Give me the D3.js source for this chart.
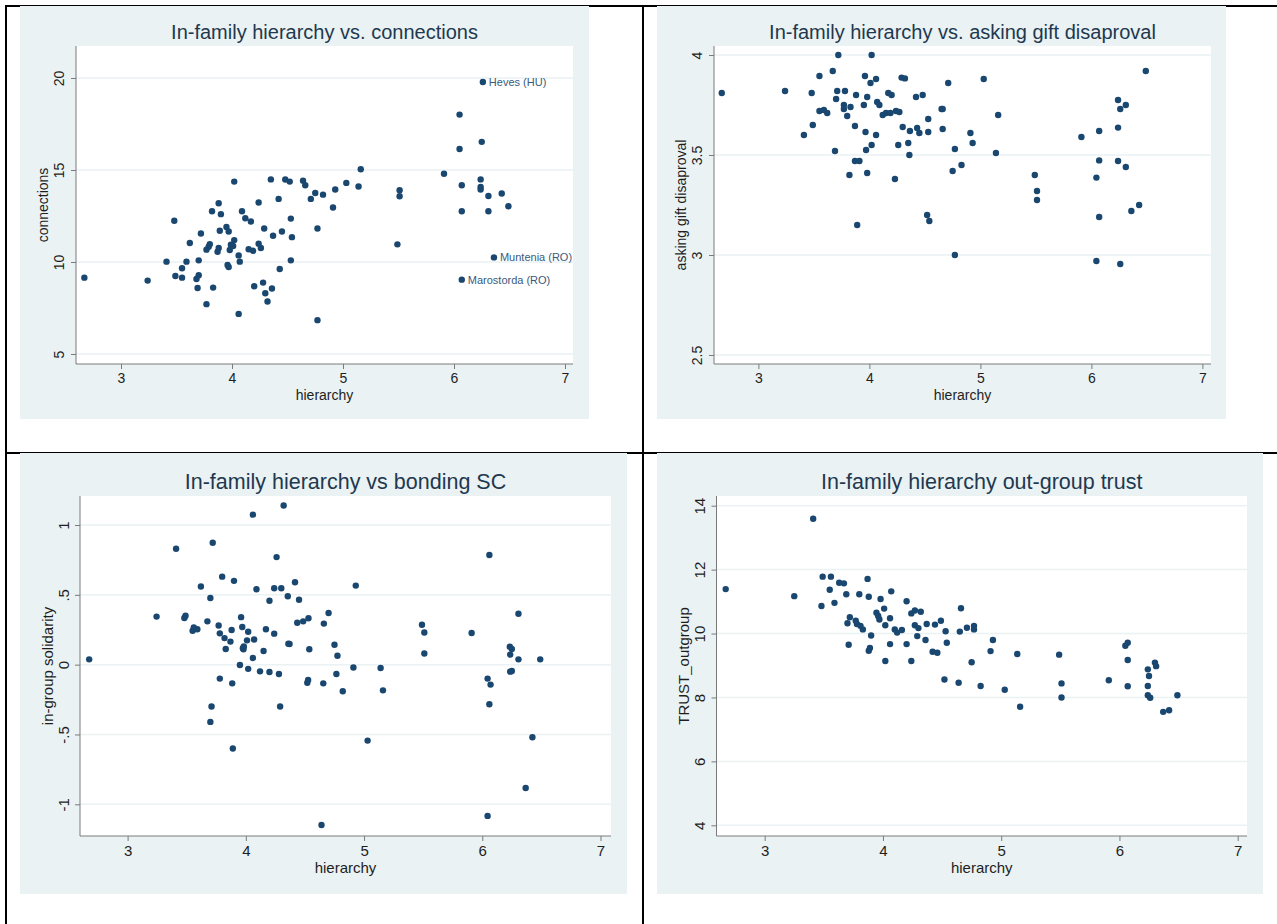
<!DOCTYPE html>
<html lang="en">
<head>
<meta charset="UTF-8">
<title>In-family hierarchy scatter plots</title>
<script src="https://d3js.org/d3.v7.min.js"></script>
<style>
  body { margin: 0; background: #fff; }
  svg { display: block; font-family: "Liberation Sans", Arial, sans-serif; }
  .title { fill: #22384f; }
  .tick-label, .axis-title { fill: #1e1e1e; }
  .pt-label { font-size: 11px; fill: #3a5a7c; }
</style>
</head>
<body>
<svg width="1277" height="924"></svg>
<script>
// hierarchy vs connections
const connPts = [
  [2.67, 9.15], [3.24, 8.99], [3.41, 10.02], [3.48, 12.24], [3.49, 9.24], [3.55, 9.15], [3.55, 9.66],
  [3.59, 10.02], [3.62, 11.03], [3.68, 9.08], [3.69, 8.59], [3.70, 10.09], [3.70, 9.28], [3.72, 11.55],
  [3.77, 7.71], [3.77, 10.67], [3.79, 10.83], [3.80, 10.97], [3.82, 12.76], [3.83, 8.61], [3.87, 10.56],
  [3.88, 10.76], [3.88, 13.19], [3.89, 11.70], [3.90, 12.60], [3.95, 11.90], [3.96, 9.84], [3.97, 9.73],
  [3.97, 11.66], [3.98, 10.65], [3.99, 10.94], [4.01, 10.87], [4.02, 11.19], [4.02, 14.37], [4.06, 10.36],
  [4.06, 7.18], [4.07, 10.02], [4.09, 12.76], [4.12, 12.38], [4.15, 10.69], [4.17, 12.20], [4.19, 10.61],
  [4.20, 8.68], [4.24, 13.23], [4.24, 10.99], [4.26, 10.76], [4.28, 8.88], [4.29, 11.82], [4.30, 8.30],
  [4.32, 7.85], [4.35, 14.49], [4.36, 8.56], [4.37, 11.43], [4.42, 13.43], [4.43, 9.62], [4.45, 11.66],
  [4.48, 14.48], [4.52, 14.37], [4.53, 12.36], [4.53, 10.09], [4.54, 11.35], [4.64, 14.42], [4.66, 14.17],
  [4.71, 13.43], [4.75, 13.75], [4.77, 11.82], [4.77, 6.84], [4.82, 13.66], [4.91, 12.96], [4.93, 13.94],
  [5.03, 14.30], [5.14, 14.10], [5.16, 15.04], [5.49, 10.96], [5.51, 13.90], [5.51, 13.57], [5.91, 14.80],
  [6.05, 18.01], [6.05, 16.14], [6.07, 12.76], [6.07, 14.17], [6.07, 9.04], [6.24, 14.49], [6.24, 14.08],
  [6.24, 13.94], [6.25, 16.53], [6.26, 19.78], [6.31, 13.59], [6.31, 12.76], [6.36, 10.25], [6.43, 13.72],
  [6.49, 13.03]
];
const connLabels = [
  { x: 6.26, y: 19.78, text: "Heves (HU)" },
  { x: 6.36, y: 10.25, text: "Muntenia (RO)" },
  { x: 6.07, y: 9.04, text: "Marostorda (RO)" }
];

// hierarchy vs asking gift disaproval
const giftPts = [
  [2.67, 3.81], [3.24, 3.82], [3.41, 3.60], [3.48, 3.81], [3.49, 3.65], [3.55, 3.895], [3.55, 3.72],
  [3.59, 3.725], [3.62, 3.71], [3.67, 3.92], [3.69, 3.52], [3.70, 3.78], [3.71, 3.82], [3.72, 4.00],
  [3.77, 3.75], [3.77, 3.73], [3.78, 3.82], [3.80, 3.695], [3.82, 3.40], [3.83, 3.74], [3.87, 3.645],
  [3.87, 3.47], [3.91, 3.47], [3.88, 3.80], [3.89, 3.15], [3.95, 3.75], [3.96, 3.895], [3.965, 3.615],
  [3.97, 3.525], [3.98, 3.41], [3.98, 3.79], [4.01, 3.86], [4.02, 4.00], [4.02, 3.55], [4.06, 3.88],
  [4.06, 3.60], [4.07, 3.765], [4.09, 3.75], [4.12, 3.70], [4.15, 3.71], [4.17, 3.81], [4.20, 3.80],
  [4.19, 3.71], [4.23, 3.38], [4.24, 3.72], [4.26, 3.55], [4.27, 3.715], [4.29, 3.887], [4.30, 3.64],
  [4.32, 3.883], [4.35, 3.56], [4.36, 3.50], [4.365, 3.62], [4.42, 3.79], [4.43, 3.635], [4.45, 3.61],
  [4.48, 3.80], [4.52, 3.20], [4.54, 3.17], [4.53, 3.68], [4.53, 3.615], [4.65, 3.73], [4.66, 3.73],
  [4.66, 3.63], [4.71, 3.86], [4.75, 3.42], [4.77, 3.53], [4.77, 3.00], [4.83, 3.45], [4.91, 3.61],
  [4.93, 3.56], [5.03, 3.88], [5.14, 3.51], [5.16, 3.70], [5.49, 3.40], [5.51, 3.32], [5.51, 3.275],
  [5.91, 3.59], [6.045, 3.387], [6.045, 2.97], [6.07, 3.62], [6.07, 3.473], [6.07, 3.19], [6.24, 3.775],
  [6.24, 3.637], [6.24, 3.47], [6.26, 3.73], [6.26, 2.955], [6.31, 3.75], [6.31, 3.44], [6.36, 3.22],
  [6.43, 3.25], [6.49, 3.92]
];

// hierarchy vs in-group solidarity
const solPts = [
  [2.675, 0.038], [3.245, 0.344], [3.41, 0.83], [3.48, 0.334], [3.49, 0.35], [3.55, 0.243], [3.56, 0.267],
  [3.59, 0.253], [3.62, 0.56], [3.675, 0.31], [3.70, 0.477], [3.71, -0.30], [3.70, -0.41], [3.72, 0.873],
  [3.77, 0.28], [3.78, -0.10], [3.78, 0.224], [3.80, 0.63], [3.82, 0.19], [3.83, 0.112], [3.87, 0.165],
  [3.88, 0.248], [3.885, -0.134], [3.89, -0.60], [3.90, 0.60], [3.95, -0.002], [3.96, 0.34], [3.97, 0.27],
  [3.975, 0.117], [3.98, 0.11], [3.983, 0.13], [4.01, 0.174], [4.02, 0.236], [4.02, -0.03], [4.06, 1.074],
  [4.06, 0.048], [4.07, 0.18], [4.09, 0.54], [4.12, -0.048], [4.15, 0.098], [4.17, 0.253], [4.20, -0.053],
  [4.20, 0.458], [4.24, 0.547], [4.24, 0.222], [4.26, 0.77], [4.28, -0.067], [4.29, -0.30], [4.30, 0.547],
  [4.32, 1.14], [4.355, 0.49], [4.36, 0.15], [4.37, 0.148], [4.416, 0.59], [4.435, 0.30], [4.45, 0.465],
  [4.485, 0.31], [4.52, -0.13], [4.527, -0.11], [4.53, 0.332], [4.537, 0.11], [4.655, -0.134], [4.64, -1.148],
  [4.66, 0.294], [4.70, 0.37], [4.75, 0.143], [4.766, -0.067], [4.775, 0.064], [4.82, -0.19], [4.91, -0.02],
  [4.93, 0.566], [5.03, -0.544], [5.14, -0.024], [5.16, -0.184], [5.49, 0.286], [5.51, 0.23], [5.51, 0.08],
  [5.91, 0.227], [6.045, -1.083], [6.045, -0.10], [6.06, 0.785], [6.06, -0.284], [6.07, -0.143], [6.233, 0.129],
  [6.236, 0.072], [6.236, -0.05], [6.25, -0.045], [6.25, 0.112], [6.306, 0.365], [6.306, 0.038], [6.367, -0.883],
  [6.424, -0.52], [6.49, 0.038]
];

// hierarchy vs TRUST_outgroup
const trustPts = [
  [2.67, 11.39], [3.25, 11.17], [3.41, 13.59], [3.48, 10.86], [3.49, 11.78], [3.56, 11.78], [3.55, 11.37],
  [3.59, 10.96], [3.63, 11.59], [3.67, 11.57], [3.69, 11.23], [3.70, 10.32], [3.71, 9.65], [3.72, 10.51],
  [3.77, 10.40], [3.78, 10.30], [3.80, 11.23], [3.81, 10.24], [3.83, 10.13], [3.87, 11.71], [3.88, 11.15],
  [3.88, 9.46], [3.89, 9.55], [3.90, 9.94], [3.945, 10.65], [3.96, 10.55], [3.97, 10.44], [3.98, 11.08],
  [4.01, 10.78], [4.02, 10.26], [4.02, 9.14], [4.06, 10.48], [4.06, 9.67], [4.07, 11.32], [4.10, 10.13],
  [4.12, 10.03], [4.16, 10.11], [4.20, 11.01], [4.20, 9.67], [4.24, 9.14], [4.24, 10.63], [4.27, 10.72],
  [4.27, 10.26], [4.29, 9.92], [4.30, 10.17], [4.32, 10.68], [4.36, 9.80], [4.37, 10.30], [4.42, 9.43],
  [4.44, 10.28], [4.46, 9.40], [4.49, 10.40], [4.53, 10.07], [4.52, 8.56], [4.54, 9.71], [4.64, 8.46],
  [4.65, 10.06], [4.66, 10.79], [4.71, 10.18], [4.75, 9.10], [4.77, 10.24], [4.77, 10.13], [4.826, 8.36],
  [4.91, 9.45], [4.93, 9.80], [5.03, 8.24], [5.136, 9.36], [5.16, 7.71], [5.49, 9.34], [5.51, 8.44],
  [5.51, 8.00], [5.91, 8.54], [6.05, 9.62], [6.07, 9.71], [6.07, 9.17], [6.07, 8.35], [6.24, 8.88],
  [6.25, 8.67], [6.24, 8.36], [6.24, 8.07], [6.26, 7.99], [6.30, 9.09], [6.31, 8.98], [6.37, 7.55],
  [6.42, 7.60], [6.49, 8.07]
];

const xTicks = [3, 4, 5, 6, 7];
const connTicks = [5, 10, 15, 20];
const giftTicks = [2.5, 3, 3.5, 4];
const solTicks = [-1, -0.5, 0, 0.5, 1];
const solTickLabels = ["-1", "-.5", "0", ".5", "1"];
const trustTicks = [4, 6, 8, 10, 12, 14];

// top row was rendered a bit smaller than the bottom row
const panels = [
  { title: "In-family hierarchy vs. connections", ytitle: "connections", pts: connPts, labels: connLabels,
    bg: [20, 6, 589, 419], box: [76, 46, 573, 364], xr: [121, 565],
    yd: [5, 20], yr: [354, 78], yticks: connTicks, fs: 14, ts: 20 },
  { title: "In-family hierarchy vs. asking gift disaproval", ytitle: "asking gift disaproval", pts: giftPts,
    bg: [657, 6, 1226, 419], box: [714, 46, 1211, 364], xr: [758.4, 1202.4],
    yd: [2.5, 4], yr: [355, 55], yticks: giftTicks, fs: 14, ts: 20 },
  { title: "In-family hierarchy vs bonding SC", ytitle: "in-group solidarity", pts: solPts,
    bg: [20, 453, 627, 894], box: [80, 496, 611, 836], xr: [127.6, 600.5],
    yd: [-1, 1], yr: [804.3, 525], yticks: solTicks, yfmt: (d, i) => solTickLabels[i], fs: 15, ts: 21.5 },
  { title: "In-family hierarchy out-group trust", ytitle: "TRUST_outgroup", pts: trustPts,
    bg: [657, 453, 1263, 894], box: [716.5, 496, 1247, 836], xr: [764.7, 1237.7],
    yd: [4, 14], yr: [825.3, 505.7], yticks: trustTicks, fs: 15, ts: 21.5 }
];

const svg = d3.select("svg");

// table frame
const frame = svg.append("g").attr("fill", "#000");
frame.append("rect").attr("x", 5).attr("y", 5).attr("width", 1272).attr("height", 2);
frame.append("rect").attr("x", 5).attr("y", 5).attr("width", 2).attr("height", 919);
frame.append("rect").attr("x", 642).attr("y", 5).attr("width", 2).attr("height", 919);
frame.append("rect").attr("x", 5).attr("y", 452).attr("width", 1272).attr("height", 2);

const axisColor = "#7a7a7a";

panels.forEach(p => {
  const g = svg.append("g");
  const [bx0, by0, bx1, by1] = p.bg;
  const [l, t, r, b] = p.box;

  g.append("rect")
    .attr("x", bx0).attr("y", by0)
    .attr("width", bx1 - bx0).attr("height", by1 - by0)
    .attr("fill", "#eaf2f3");

  g.append("rect")
    .attr("x", l).attr("y", t)
    .attr("width", r - l).attr("height", b - t)
    .attr("fill", "#fff");

  const x = d3.scaleLinear().domain([3, 7]).range(p.xr);
  const y = d3.scaleLinear().domain(p.yd).range(p.yr);

  // gridlines
  g.selectAll(".grid")
    .data(p.yticks)
    .enter().append("line")
    .attr("x1", l).attr("x2", r)
    .attr("y1", d => y(d)).attr("y2", d => y(d))
    .attr("stroke", "#eaf2f3")
    .attr("stroke-width", 1.5);

  // x axis
  const xAxis = g.append("g")
    .attr("transform", `translate(0, ${b})`)
    .call(d3.axisBottom(x).tickValues(xTicks).tickFormat(d3.format("d")).tickSizeOuter(0).tickSize(5).tickPadding(4));
  xAxis.select(".domain").remove();
  xAxis.append("line").attr("x1", l).attr("x2", r).attr("stroke", axisColor);
  xAxis.selectAll(".tick line").attr("stroke", axisColor);
  xAxis.selectAll(".tick text").attr("class", "tick-label").attr("fill", null).attr("font-family", null)
    .attr("font-size", p.fs);

  // y axis
  const yAxis = g.append("g")
    .attr("transform", `translate(${l}, 0)`)
    .call(d3.axisLeft(y).tickValues(p.yticks).tickFormat(p.yfmt || (d => String(d))).tickSizeOuter(0).tickSize(5));
  yAxis.select(".domain").remove();
  yAxis.append("line").attr("y1", t).attr("y2", b).attr("stroke", axisColor);
  yAxis.selectAll(".tick line").attr("stroke", axisColor);
  yAxis.selectAll(".tick text")
    .attr("class", "tick-label")
    .attr("fill", null).attr("font-family", null).attr("font-size", p.fs)
    .attr("x", null).attr("dy", null)
    .attr("text-anchor", "middle")
    .attr("dominant-baseline", "central")
    .attr("transform", "translate(-17, 0) rotate(-90)");

  g.append("text")
    .attr("class", "axis-title")
    .attr("font-size", p.fs)
    .attr("text-anchor", "middle")
    .attr("dominant-baseline", "central")
    .attr("transform", `translate(${l - 33}, ${(t + b) / 2}) rotate(-90)`)
    .text(p.ytitle);

  g.append("text")
    .attr("class", "axis-title")
    .attr("font-size", p.fs)
    .attr("x", (l + r) / 2).attr("y", b + 31)
    .attr("text-anchor", "middle")
    .attr("dominant-baseline", "central")
    .text("hierarchy");

  g.append("text")
    .attr("class", "title")
    .attr("font-size", p.ts)
    .attr("x", (l + r) / 2).attr("y", t - 14)
    .attr("text-anchor", "middle")
    .attr("dominant-baseline", "central")
    .text(p.title);

  g.selectAll(".dot")
    .data(p.pts)
    .enter().append("circle")
    .attr("cx", d => x(d[0]))
    .attr("cy", d => y(d[1]))
    .attr("r", 3.2)
    .attr("fill", "#1a476f");

  if (p.labels) {
    g.selectAll(".pt-label")
      .data(p.labels)
      .enter().append("text")
      .attr("class", "pt-label")
      .attr("x", d => x(d.x) + 6)
      .attr("y", d => y(d.y))
      .attr("dominant-baseline", "central")
      .text(d => d.text);
  }
});
</script>
</body>
</html>
